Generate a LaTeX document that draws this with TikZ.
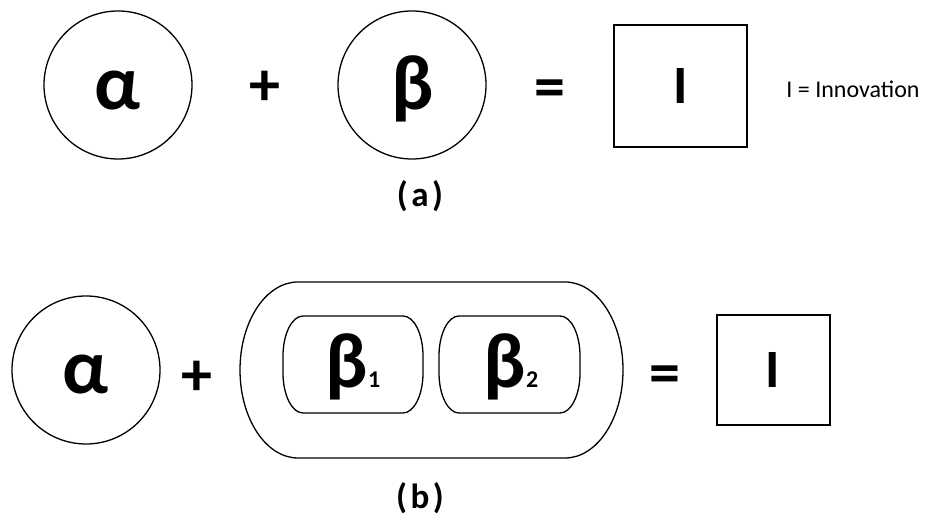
\documentclass[tikz,border=0pt]{standalone}
\usepackage{fontspec}
\setmainfont{Carlito}
\begin{document}
\begin{tikzpicture}[x=1pt,y=1pt,
  ring/.style={draw,line width=1.3pt,circle,minimum size=148pt,inner sep=0pt},
  ibox/.style={draw,line width=1.6pt,rectangle,inner sep=0pt},
  greek/.style={font=\fontsize{78}{78}\selectfont\bfseries,inner sep=0pt,anchor=base},
  optxt/.style={font=\fontsize{62}{62}\selectfont\bfseries,inner sep=0pt},
  itxt/.style={font=\fontsize{54}{54}\selectfont\bfseries,inner sep=0pt,anchor=base},
  captxt/.style={font=\fontsize{35}{35}\selectfont\bfseries,inner sep=0pt},
  shell/.style={draw,line width=1.3pt}]
\useasboundingbox (0,0) rectangle (925,518);
% ---- (a) ----
\node[ring] (a1) at (118,433) {};
\node[greek] (a1t) at (118,408) {α};
\node[optxt] (plus1) at (265,430) {+};
\node[ring] (b1) at (412,433) {};
\node[greek] (b1t) at (413,408) {β};
\node[optxt] (eq1) at (550,424) {=};
\node[ibox,minimum width=133pt,minimum height=122pt] (i1) at (680.5,432) {};
\node[itxt] (i1t) at (681,414) {I};
\node[font=\fontsize{24}{24}\selectfont,inner sep=0pt] (legend) at (853,429) {I = Innovation};
\node[captxt] (capa) at (420,322) {(\kern3.5pt a\kern3.5pt)};
% ---- (b) ----
\node[ring] (a2) at (86,148) {};
\node[greek] (a2t) at (86,124) {α};
\node[optxt] (plus2) at (197,140) {+};
% outer shell
\draw[shell] (298,236) -- (565,236)
  arc[start angle=90,end angle=-90,x radius=58,y radius=88] -- (298,60)
  arc[start angle=270,end angle=90,x radius=58,y radius=88] -- cycle;
% inner shells
\draw[shell] (303,202) -- (403,202)
  arc[start angle=90,end angle=0,x radius=20,y radius=40] -- (423,145)
  arc[start angle=0,end angle=-90,x radius=20,y radius=40] -- (303,105)
  arc[start angle=270,end angle=180,x radius=20,y radius=40] -- (283,162)
  arc[start angle=180,end angle=90,x radius=20,y radius=40] -- cycle;
\draw[shell] (459,202) -- (560,202)
  arc[start angle=90,end angle=0,x radius=20,y radius=40] -- (580,145)
  arc[start angle=0,end angle=-90,x radius=20,y radius=40] -- (459,105)
  arc[start angle=270,end angle=180,x radius=20,y radius=40] -- (439,162)
  arc[start angle=180,end angle=90,x radius=20,y radius=40] -- cycle;
\node[greek] (bb1) at (353,130) {β\fontsize{24}{24}\selectfont 1};
\node[greek] (bb2) at (511,130) {β\fontsize{24}{24}\selectfont 2};
\node[optxt] (eq2) at (665,138) {=};
\node[ibox,minimum width=113pt,minimum height=110pt] (i2) at (773.5,148) {};
\node[itxt] (i2t) at (773,130) {I};
\node[captxt] (capb) at (420,20) {(\kern3.5pt b\kern3.5pt)};
\end{tikzpicture}
\end{document}
